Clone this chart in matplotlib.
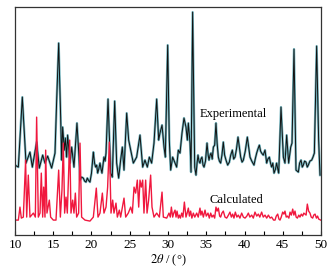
"""XRD pattern: experimental vs calculated."""
import matplotlib
matplotlib.use('Agg')
import matplotlib.pyplot as plt
from matplotlib.ticker import MultipleLocator

# Experimental pattern (2theta in degrees, intensity in a.u.)
exp_2theta = [10.00, 10.44, 10.96, 11.44, 11.96, 12.27, 12.83, 13.18, 13.62, 13.92,
              14.27, 14.79, 15.23, 15.45, 15.71, 15.97, 16.10, 16.23, 16.45, 16.58,
              16.75, 16.88, 17.19, 17.41, 17.71, 18.10, 18.37, 18.50, 18.70, 18.93,
              19.10, 19.28, 19.45, 19.59, 19.80, 20.00, 20.24, 20.40, 20.54, 20.68,
              20.81, 20.95, 21.11, 21.25, 21.37, 21.50, 21.63, 21.78, 21.90, 22.16,
              22.51, 22.72, 23.03, 23.29, 23.55, 23.81, 24.03, 24.25, 24.60, 24.86,
              25.12, 25.47, 25.90, 26.34, 26.69, 26.99, 27.30, 27.56, 27.86, 28.17,
              28.52, 28.78, 28.95, 29.22, 29.48, 29.65, 29.96, 30.17, 30.35, 30.61,
              30.92, 31.13, 31.35, 31.57, 31.83, 32.09, 32.35, 32.53, 32.66, 32.88,
              33.01, 33.22, 33.49, 33.66, 33.80, 33.92, 34.05, 34.18, 34.30, 34.44,
              34.58, 34.71, 34.90, 35.10, 35.25, 35.36, 35.50, 35.62, 35.78, 35.93,
              36.10, 36.27, 36.42, 36.58, 36.72, 36.88, 37.05, 37.23, 37.40, 37.58,
              37.80, 38.02, 38.20, 38.41, 38.58, 38.76, 38.95, 39.15, 39.32, 39.50,
              39.68, 39.85, 40.10, 40.37, 40.55, 40.72, 40.95, 41.10, 41.24, 41.40,
              41.59, 41.75, 41.94, 42.10, 42.24, 42.45, 42.68, 42.80, 42.90, 43.05,
              43.25, 43.40, 43.55, 43.70, 43.86, 44.05, 44.20, 44.35, 44.47, 44.77,
              45.08, 45.29, 45.51, 45.77, 46.04, 46.21, 46.47, 46.73, 47.04, 47.20,
              47.39, 47.55, 47.69, 47.85, 48.04, 48.20, 48.34, 48.55, 48.78, 48.95,
              49.13, 49.43, 49.69, 49.87]
exp_int = [70, 68, 138, 72, 83, 68, 93, 67, 80, 72,
           79, 67, 82, 135, 192, 118, 75, 108, 85, 97,
           78, 100, 72, 88, 68, 112, 78, 55, 58, 57,
           54, 53, 57, 55, 53, 62, 83, 72, 68, 70,
           62, 66, 72, 66, 62, 70, 78, 74, 82, 136,
           62, 58, 134, 72, 57, 75, 88, 65, 122, 95,
           85, 72, 78, 100, 68, 75, 68, 78, 72, 92,
           136, 95, 102, 110, 88, 78, 190, 95, 65, 78,
           72, 68, 85, 82, 102, 117, 108, 95, 112, 92,
           63, 223, 68, 60, 72, 80, 74, 72, 76, 78,
           70, 68, 74, 92, 80, 75, 80, 82, 76, 88,
           90, 112, 92, 78, 74, 72, 80, 93, 80, 75,
           70, 73, 80, 85, 76, 78, 86, 98, 88, 78,
           73, 75, 84, 98, 88, 78, 74, 72, 70, 76,
           82, 86, 90, 84, 82, 80, 85, 78, 72, 76,
           78, 72, 68, 72, 62, 66, 72, 66, 62, 128,
           78, 72, 100, 72, 88, 92, 186, 65, 63, 72,
           75, 68, 70, 74, 73, 68, 70, 74, 75, 78,
           82, 189, 95, 60]

# Calculated pattern
calc_2theta = [10.00, 10.44, 10.65, 10.83, 11.09, 11.39, 11.53, 11.74, 11.96, 12.40,
               12.66, 12.83, 13.05, 13.27, 13.44, 13.62, 13.75, 13.92, 14.01, 14.18,
               14.49, 14.66, 15.01, 15.36, 15.71, 15.93, 16.14, 16.32, 16.49, 16.67,
               16.84, 16.97, 17.15, 17.32, 17.54, 17.71, 17.89, 18.06, 18.32, 18.50,
               18.71, 19.15, 19.80, 20.24, 20.63, 20.85, 21.11, 21.42, 21.63, 21.90,
               22.11, 22.33, 22.55, 22.77, 22.94, 23.20, 23.38, 23.64, 23.81, 24.25,
               24.47, 24.81, 25.12, 25.34, 25.56, 25.77, 25.99, 26.17, 26.34, 26.51,
               26.69, 26.86, 27.08, 27.26, 27.47, 27.73, 27.91, 28.17, 28.52, 28.87,
               29.22, 29.39, 29.83, 30.13, 30.30, 30.44, 30.61, 30.75, 30.92, 31.05,
               31.18, 31.35, 31.48, 31.62, 31.79, 31.95, 32.14, 32.35, 32.50, 32.66,
               32.80, 32.96, 33.12, 33.31, 33.50, 33.75, 33.95, 34.18, 34.30, 34.44,
               34.62, 34.84, 35.00, 35.23, 35.40, 35.58, 35.75, 35.93, 36.10, 36.27,
               36.42, 36.58, 36.75, 36.88, 37.05, 37.23, 37.45, 37.67, 37.90, 38.10,
               38.28, 38.45, 38.62, 38.80, 39.00, 39.19, 39.40, 39.63, 39.85, 40.07,
               40.30, 40.50, 40.70, 40.94, 41.15, 41.37, 41.60, 41.81, 42.00, 42.24,
               42.45, 42.68, 42.90, 43.12, 43.35, 43.55, 43.80, 43.99, 44.15, 44.34,
               44.50, 44.64, 44.80, 44.99, 45.15, 45.29, 45.45, 45.60, 45.80, 45.95,
               46.12, 46.30, 46.45, 46.60, 46.75, 46.91, 47.10, 47.25, 47.42, 47.60,
               47.75, 47.91, 48.05, 48.21, 48.38, 48.56, 48.72, 48.91, 49.05, 49.22,
               49.40, 49.55, 49.70, 49.96]
calc_int = [15, 15, 28, 17, 18, 75, 18, 60, 18, 22,
            18, 118, 18, 22, 62, 18, 48, 18, 85, 22,
            35, 18, 15, 15, 65, 18, 45, 92, 22, 38,
            22, 52, 95, 22, 35, 22, 42, 18, 22, 92,
            18, 15, 14, 18, 47, 18, 22, 42, 22, 28,
            48, 93, 22, 35, 22, 32, 18, 25, 18, 37,
            18, 22, 28, 22, 48, 42, 55, 28, 55, 48,
            55, 22, 55, 22, 35, 60, 28, 18, 22, 18,
            43, 18, 17, 22, 18, 28, 18, 22, 25, 18,
            24, 17, 20, 17, 22, 18, 33, 18, 22, 27,
            19, 24, 17, 22, 18, 22, 18, 27, 20, 24,
            18, 25, 19, 22, 17, 22, 18, 20, 17, 28,
            24, 27, 19, 18, 22, 24, 18, 17, 20, 23,
            18, 21, 17, 23, 18, 20, 17, 22, 18, 17,
            19, 22, 18, 20, 17, 23, 19, 21, 18, 23,
            18, 20, 17, 20, 17, 18, 15, 15, 19, 21,
            16, 15, 18, 23, 21, 24, 18, 19, 17, 23,
            20, 26, 20, 24, 18, 17, 20, 18, 21, 19,
            22, 21, 20, 31, 24, 22, 18, 17, 20, 21,
            17, 19, 16, 15]

plt.rcParams['font.family'] = ['Liberation Serif', 'DejaVu Serif']
plt.rcParams['mathtext.fontset'] = 'stix'

fig = plt.figure(figsize=(3.33, 2.74), dpi=100)
ax = fig.add_axes([0.045, 0.142, 0.919, 0.832])

# experimental: teal halo under a thin black trace
ax.plot(exp_2theta, exp_int, color='#5aa7b3', lw=1.7, alpha=0.85)
ax.plot(exp_2theta, exp_int, color='#111111', lw=0.7)
ax.plot(calc_2theta, calc_int, color='#f0183e', lw=1.0)

ax.text(38.5, 121, 'Experimental', ha='center', va='center', fontsize=9)
ax.text(39.0, 35, 'Calculated', ha='center', va='center', fontsize=9)

ax.set_xlim(10, 50)
ax.set_ylim(0, 228)
ax.xaxis.set_major_locator(MultipleLocator(5))
ax.xaxis.set_minor_locator(MultipleLocator(2.5))
ax.tick_params(axis='x', which='both', direction='in', length=3, width=0.8)
ax.tick_params(axis='x', which='major', labelsize=9.5, pad=3)
ax.set_yticks([])
for s in ax.spines.values():
    s.set_linewidth(0.9)
    s.set_color('#333333')

ax.set_xlabel(r'$2\theta$ / (°)', fontsize=9, labelpad=1)

fig.savefig('out.png', dpi=100)
